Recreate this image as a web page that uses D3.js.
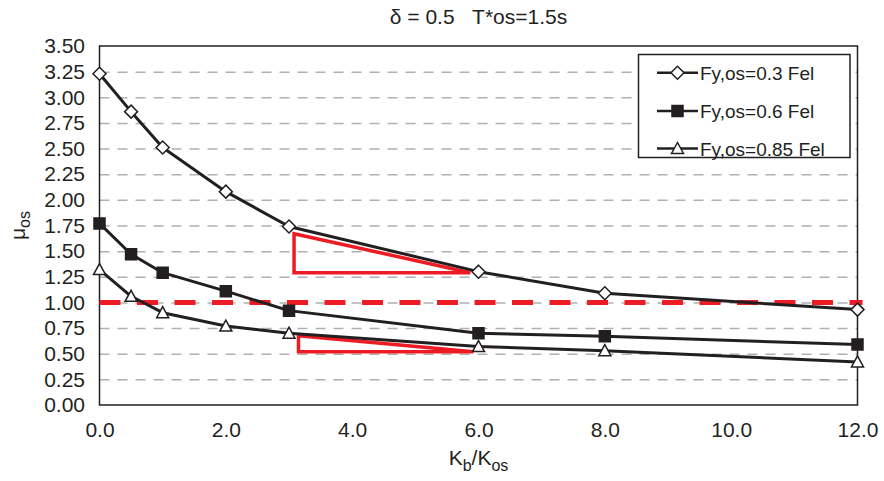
<!DOCTYPE html>
<html>
<head>
<meta charset="utf-8">
<script src="https://cdn.jsdelivr.net/npm/d3@7"></script>
<style>
  html, body { margin: 0; padding: 0; background: #fff; }
  svg { display: block; font-family: "Liberation Sans", Arial, sans-serif; }
</style>
</head>
<body>
<svg id="chart" width="884" height="481"></svg>
<script>
// ---- data ----
const xValues = [0, 0.5, 1, 2, 3, 6, 8, 12];
const seriesNames = ["Fy,os=0.3 Fel", "Fy,os=0.6 Fel", "Fy,os=0.85 Fel"];
const mu03 = [3.23, 2.86, 2.51, 2.08, 1.74, 1.30, 1.09, 0.93];
const mu06 = [1.77, 1.47, 1.29, 1.11, 0.92, 0.70, 0.67, 0.59];
const mu085 = [1.32, 1.06, 0.90, 0.77, 0.70, 0.57, 0.53, 0.42];
const xTicks = [0, 2, 4, 6, 8, 10, 12];
const yTicks = [0, 0.25, 0.5, 0.75, 1, 1.25, 1.5, 1.75, 2, 2.25, 2.5, 2.75, 3, 3.25, 3.5];
const refValue = 1.0;
const refExtent = [0, 12.08];
const triangle1 = [[3.08, 1.67], [3.08, 1.29], [5.87, 1.29]];
const triangle2 = [[3.15, 0.675], [3.15, 0.52], [5.92, 0.52]];
const titleText = "δ = 0.5   T*os=1.5s";

// ---- layout ----
const svg = d3.select("#chart");
const L = 99.5, R = 857.5, T = 46, B = 405;
const x = d3.scaleLinear().domain([0, 12]).range([L, R]);
const y = d3.scaleLinear().domain([0, 3.5]).range([B, T]);
const ink = "#231f20";
const red = "#ed1c24";

// gridlines
svg.append("g")
  .attr("transform", `translate(${L},0)`)
  .call(d3.axisLeft(y).tickValues(yTicks.filter(v => v > 0 && v < 3.5)).tickSize(-(R - L)).tickFormat(""))
  .call(g => g.select(".domain").remove())
  .call(g => g.selectAll("line").attr("stroke", "#b0b0b0").attr("stroke-width", 1.5).attr("stroke-dasharray", "10 8"));

// y axis labels
svg.append("g")
  .attr("transform", `translate(${L},0)`)
  .call(d3.axisLeft(y).tickValues(yTicks).tickSize(0).tickPadding(14.5).tickFormat(d3.format(".2f")))
  .call(g => g.select(".domain").remove())
  .call(g => g.selectAll("text").attr("font-size", 21).attr("fill", ink).attr("font-family", null));

// x axis labels
svg.append("g")
  .attr("transform", `translate(0,${B})`)
  .call(d3.axisBottom(x).tickValues(xTicks).tickSize(0).tickPadding(17).tickFormat(d3.format(".1f")))
  .call(g => g.select(".domain").remove())
  .call(g => g.selectAll("text").attr("font-size", 21).attr("fill", ink).attr("font-family", null));

// frame
svg.append("rect")
  .attr("x", L).attr("y", T).attr("width", R - L).attr("height", B - T)
  .attr("fill", "none").attr("stroke", ink).attr("stroke-width", 1.5);

// red reference line
svg.append("line")
  .attr("x1", x(refExtent[0])).attr("x2", x(refExtent[1]))
  .attr("y1", y(refValue)).attr("y2", y(refValue))
  .attr("stroke", red).attr("stroke-width", 5).attr("stroke-dasharray", "21 16.5");

// red triangles
const triLine = d3.line().x(d => x(d[0])).y(d => y(d[1]));
[triangle1, triangle2].forEach(tri => {
  svg.append("path")
    .attr("d", triLine(tri) + "Z")
    .attr("fill", "none").attr("stroke", red).attr("stroke-width", 3.5)
    .attr("stroke-linejoin", "miter");
});

// series
const markerPaths = {
  diamond: "M0,-6.5L6.5,0L0,6.5L-6.5,0Z",
  square: "M-5.5,-5.5H5.5V5.5H-5.5Z",
  triangle: "M0,-6L6,5H-6Z"
};
const series = [
  { name: seriesNames[0], values: mu03, marker: "diamond", fill: "#fff" },
  { name: seriesNames[1], values: mu06, marker: "square", fill: ink },
  { name: seriesNames[2], values: mu085, marker: "triangle", fill: "#fff" }
];
const line = d3.line().x(d => x(d[0])).y(d => y(d[1]));
series.forEach(s => {
  const pts = xValues.map((xv, i) => [xv, s.values[i]]);
  svg.append("path").attr("d", line(pts))
    .attr("fill", "none").attr("stroke", ink).attr("stroke-width", 3).attr("stroke-linejoin", "round");
  svg.append("g").selectAll("path").data(pts).join("path")
    .attr("transform", d => `translate(${x(d[0])},${y(d[1])})`)
    .attr("d", markerPaths[s.marker])
    .attr("fill", s.fill).attr("stroke", ink).attr("stroke-width", 1.5);
});

// legend
const lg = svg.append("g");
lg.append("rect").attr("x", 638.5).attr("y", 54.5).attr("width", 211.5).attr("height", 103)
  .attr("fill", "#fff").attr("stroke", ink).attr("stroke-width", 1.5);
const rowY = [72.7, 111, 148.5];
series.forEach((s, i) => {
  const gy = rowY[i];
  lg.append("line").attr("x1", 657).attr("x2", 698).attr("y1", gy).attr("y2", gy)
    .attr("stroke", ink).attr("stroke-width", 2.5);
  lg.append("path").attr("transform", `translate(677.5,${gy})`).attr("d", markerPaths[s.marker])
    .attr("fill", s.fill).attr("stroke", ink).attr("stroke-width", 1.5);
  lg.append("text").attr("x", 700).attr("y", gy + 7).attr("font-size", 19).attr("fill", ink).text(s.name);
});

// title
svg.append("text").attr("x", (L + R) / 2).attr("y", 24).attr("text-anchor", "middle")
  .attr("font-size", 21).attr("fill", ink).style("white-space", "pre").text(titleText);

// x axis title
const xt = svg.append("text").attr("x", (L + R) / 2).attr("y", 465).attr("text-anchor", "middle")
  .attr("font-size", 21).attr("fill", ink);
xt.append("tspan").text("K");
xt.append("tspan").attr("font-size", 16).attr("dy", 6).text("b");
xt.append("tspan").attr("dy", -6).text("/K");
xt.append("tspan").attr("font-size", 16).attr("dy", 6).text("os");

// y axis title
const yt = svg.append("text").attr("transform", `translate(25,${(T + B) / 2}) rotate(-90)`)
  .attr("text-anchor", "middle").attr("font-size", 21).attr("fill", ink);
yt.append("tspan").text("μ");
yt.append("tspan").attr("font-size", 16).attr("dy", 5).text("os");
</script>
</body>
</html>
